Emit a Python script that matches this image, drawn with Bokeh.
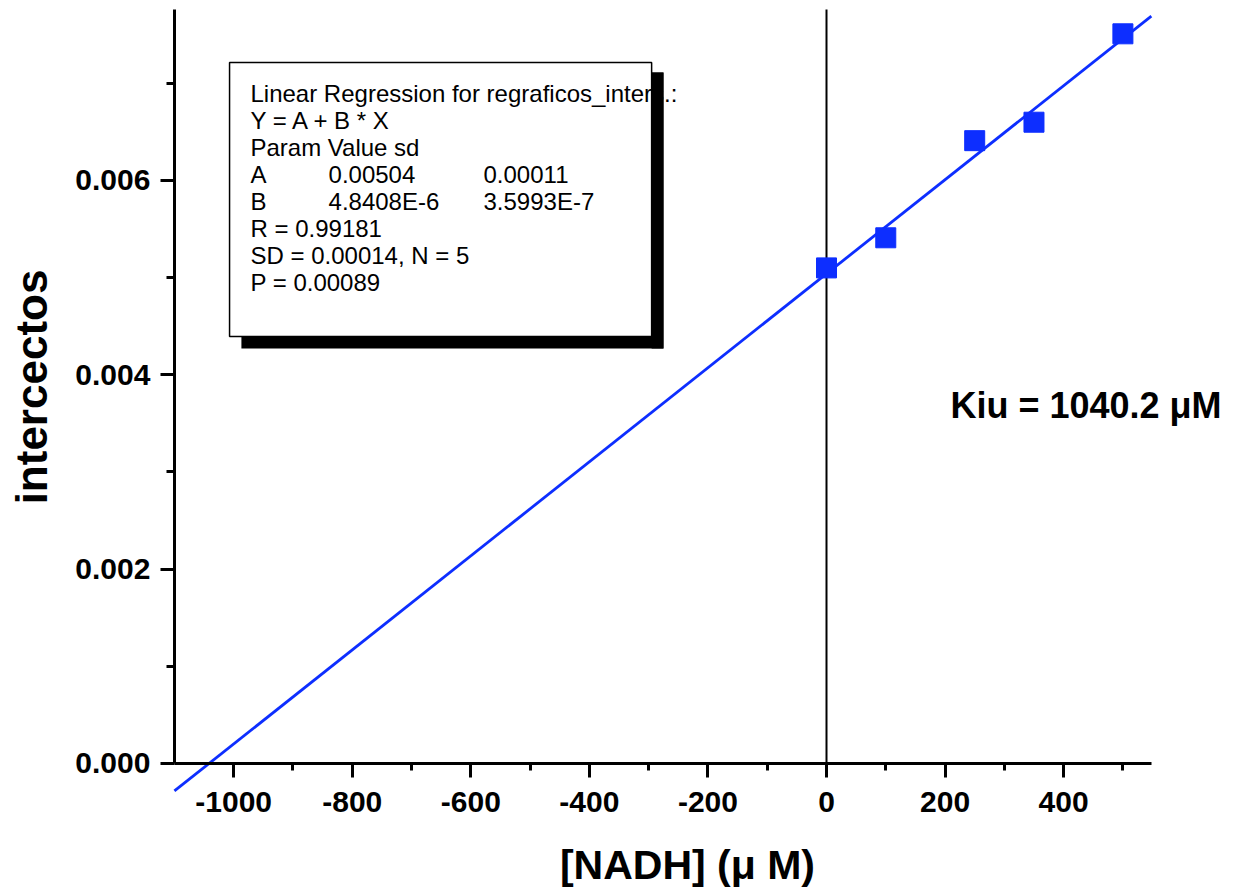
import math
from bokeh.plotting import figure
from bokeh.models import Range1d, FixedTicker, PrintfTickFormatter, Label, ColumnDataSource
from bokeh.core.properties import value
from bokeh.embed import file_html
from bokeh.resources import INLINE

# ---- data ----
nadh = [0, 100, 250, 350, 500]
intercepts = [0.00510, 0.00541, 0.00641, 0.00660, 0.00751]
fit_A = 0.00504
fit_B = 4.8408e-6

x_major = [-1000, -800, -600, -400, -200, 0, 200, 400]
x_minor = [-900, -700, -500, -300, -100, 100, 300, 500]
y_major = [0.000, 0.002, 0.004, 0.006]
y_minor = [0.001, 0.003, 0.005, 0.007]

x_title = "[NADH] (\u03bc M)"
y_title = "intercectos"
kiu_text = "Kiu = 1040.2 \u03bcM"

reg_col1 = ["Linear Regression for regraficos_inters.:", "Y = A + B * X", "Param Value  sd",
            "A", "B", "R  = 0.99181", "SD = 0.00014, N = 5", "P = 0.00089"]
reg_col2 = ["", "", "", "0.00504", "4.8408E-6", "", "", ""]
reg_col3 = ["", "", "", "0.00011", "3.5993E-7", "", "", ""]

# ---- layout / style ----
AX_X0, AX_X1 = -1100, 548
AX_Y0, AX_Y1 = 0.0, 0.00776
VIEW_X0, VIEW_X1 = -1393.4, 696.7
VIEW_Y0, VIEW_Y1 = -0.00132, 0.007853
BLUE = "#0d2eff"
FONT = "Liberation Sans"

p = figure(width=1239, height=891,
           x_range=Range1d(VIEW_X0, VIEW_X1), y_range=Range1d(VIEW_Y0, VIEW_Y1),
           output_backend="svg", toolbar_location=None,
           min_border=0, min_border_left=0, min_border_right=0,
           min_border_top=0, min_border_bottom=0)
p.grid.visible = False
p.outline_line_color = None
p.background_fill_color = "white"
p.border_fill_color = "white"

# x axis drawn at y = 0
xa = p.xaxis[0]
xa.fixed_location = 0
xa.bounds = (AX_X0, AX_X1)
xa.ticker = FixedTicker(ticks=x_major, minor_ticks=x_minor)
xa.formatter = PrintfTickFormatter(format="%d")
xa.axis_line_width = 3
xa.major_tick_line_width = 3
xa.minor_tick_line_width = 3
xa.major_tick_in = 0
xa.major_tick_out = 14
xa.minor_tick_in = 0
xa.minor_tick_out = 7
xa.major_label_standoff = 15
xa.major_label_text_font = FONT
xa.major_label_text_font_size = "30px"
xa.major_label_text_font_style = "bold"
xa.major_label_text_color = "black"

# y axis drawn at x = AX_X0
ya = p.yaxis[0]
ya.fixed_location = AX_X0
ya.bounds = (AX_Y0, AX_Y1)
ya.ticker = FixedTicker(ticks=y_major, minor_ticks=y_minor)
ya.formatter = PrintfTickFormatter(format="%.3f")
ya.axis_line_width = 3
ya.major_tick_line_width = 3
ya.minor_tick_line_width = 3
ya.major_tick_in = 0
ya.major_tick_out = 14
ya.minor_tick_in = 0
ya.minor_tick_out = 8
ya.major_label_standoff = 10
ya.major_label_text_font = FONT
ya.major_label_text_font_size = "30px"
ya.major_label_text_font_style = "bold"
ya.major_label_text_color = "black"

# vertical reference line at x = 0
p.segment(x0=[0], y0=[AX_Y0], x1=[0], y1=[AX_Y1], line_color="black", line_width=2)

# regression line
fit_x = [AX_X0, AX_X1]
fit_y = [fit_A + fit_B * v for v in fit_x]
p.line(fit_x, fit_y, line_color=BLUE, line_width=2.8)

# data points
p.scatter(nadh, intercepts, marker="square", size=20, fill_color=BLUE, line_color=BLUE)

# regression info box (shadow + white box + text)
BOX_L, BOX_R, BOX_T, BOX_B = -1007, -295, 0.007214, 0.004394
SH_L, SH_R, SH_T, SH_B = -987, -275, 0.007111, 0.004270
p.quad(left=[SH_L], right=[SH_R], top=[SH_T], bottom=[SH_B], fill_color="black", line_color=None)
p.quad(left=[BOX_L], right=[BOX_R], top=[BOX_T], bottom=[BOX_B], fill_color="white",
       line_color="black", line_width=1.5)

COL_X = [-971.7, -840.0, -578.6]
LINE0_Y = 0.006895
LINE_STEP = 0.000278
tx, ty, tt = [], [], []
for i, (a, b, c) in enumerate(zip(reg_col1, reg_col2, reg_col3)):
    yy = LINE0_Y - i * LINE_STEP
    for cx, s in zip(COL_X, (a, b, c)):
        if s:
            tx.append(cx); ty.append(yy); tt.append(s)
src = ColumnDataSource(dict(x=tx, y=ty, text=tt))
p.text(x="x", y="y", text="text", source=src, text_font=value(FONT), text_font_size=value("24px"),
       text_baseline="middle", text_align="left", text_color="black")
# right shadow strip overlapping the long first line
p.quad(left=[BOX_R], right=[SH_R], top=[SH_T], bottom=[SH_B], fill_color="black", line_color=None)

# Kiu annotation
p.add_layout(Label(x=209, y=0.003684, text=kiu_text, text_font=FONT, text_font_size="36px",
                   text_font_style="bold", text_baseline="middle", text_align="left",
                   text_color="black"))

# axis titles
p.add_layout(Label(x=-234.5, y=-0.001052, text=x_title, text_font=FONT, text_font_size="41px",
                   text_font_style="bold", text_baseline="middle", text_align="center",
                   text_color="black"))
p.add_layout(Label(x=-1341, y=0.003874, text=y_title, text_font=FONT, text_font_size="44px",
                   text_font_style="bold", text_baseline="middle", text_align="center",
                   angle=math.pi / 2, text_color="black"))

open("out.html", "w").write(file_html(p, INLINE))
